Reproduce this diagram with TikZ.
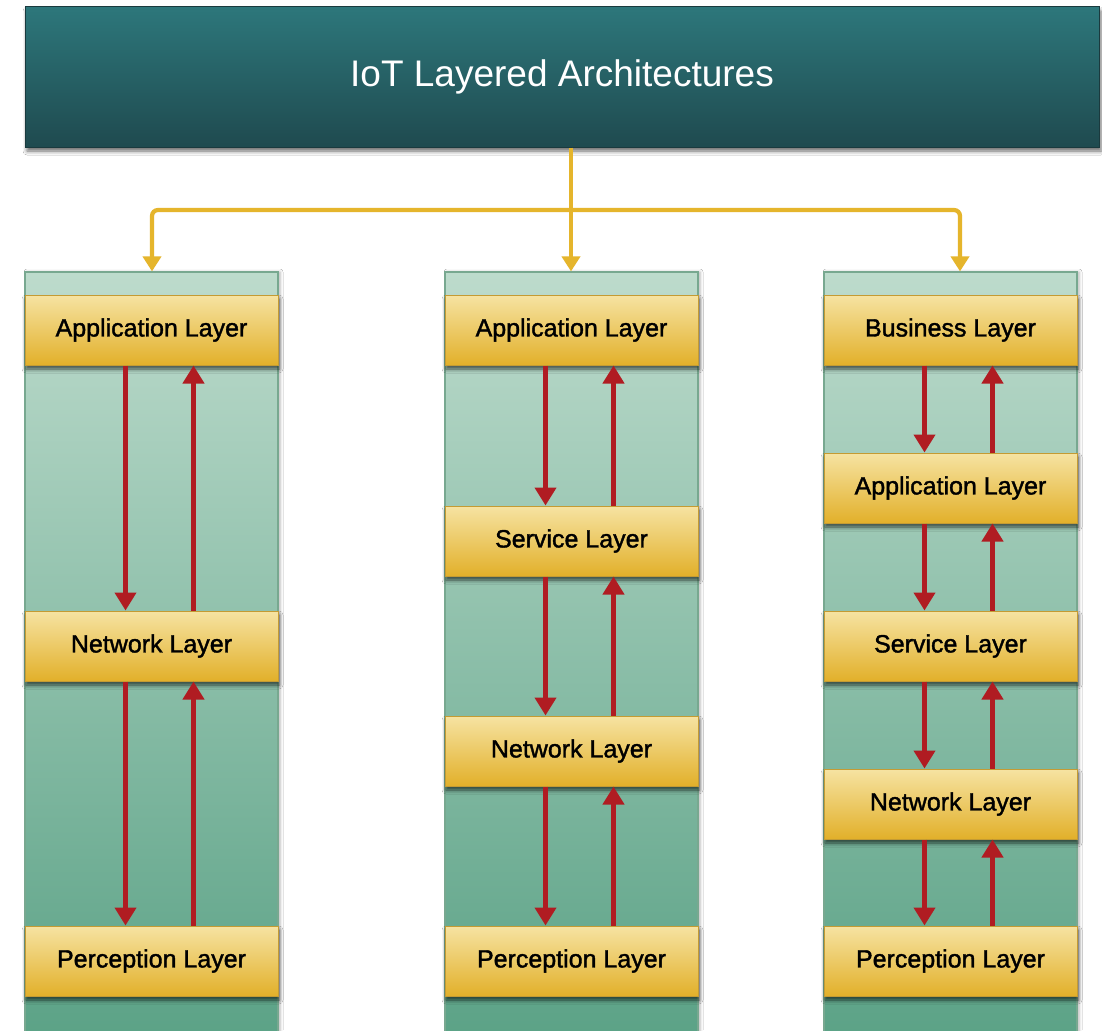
\documentclass[tikz,border=0pt]{standalone}
\usepackage{fontspec}
\setmainfont{Liberation Sans}
\newfontfamily\boxfont{Liberation Sans}[FakeBold=1.5]
\usetikzlibrary{arrows.meta,shadows.blur}
\definecolor{titletop}{HTML}{2D777B}
\definecolor{titlebot}{HTML}{1F4A4F}
\definecolor{titleedge}{HTML}{1A3A3E}
\definecolor{coltop}{HTML}{BDDBCC}
\definecolor{colbot}{HTML}{5BA286}
\definecolor{coledge}{HTML}{78A890}
\definecolor{boxtop}{HTML}{F6E3A2}
\definecolor{boxbot}{HTML}{E2B02A}
\definecolor{boxedge}{HTML}{C49B33}
\definecolor{linkyel}{HTML}{E5B52C}
\definecolor{arrred}{HTML}{B01C22}
\tikzset{
  titlebox/.style={draw=titleedge, line width=1pt, top color=titletop, bottom color=titlebot,
    minimum width=1074pt, minimum height=140pt, inner sep=0pt, text=white,
    font=\fontsize{37}{40}\selectfont,
    blur shadow={shadow xshift=2pt, shadow yshift=-4pt, shadow blur radius=4pt, shadow opacity=60}},
  colbox/.style={draw=coledge, line width=1.2pt, top color=coltop, bottom color=colbot,
    minimum width=253pt, minimum height=768pt, inner sep=0pt,
    blur shadow={shadow xshift=2pt, shadow yshift=0pt, shadow blur radius=3pt, shadow opacity=30}},
  layerbox/.style={draw=boxedge, line width=1pt, top color=boxtop, bottom color=boxbot,
    minimum width=253pt, minimum height=70pt, inner sep=0pt, text=black,
    font=\boxfont\fontsize{25}{27}\selectfont,
    blur shadow={shadow xshift=1pt, shadow yshift=-4pt, shadow blur radius=4pt, shadow opacity=65}},
  yelarr/.style={draw=linkyel, line width=4.2pt, -{Triangle[width=18pt,length=15pt]}},
  redarr/.style={draw=arrred, line width=4.2pt, -{Triangle[width=21pt,length=18pt]}},
}
\begin{document}
\begin{tikzpicture}[x=1pt,y=-1pt]
\useasboundingbox (0,0) rectangle (1102,1030);
\clip (0,0) rectangle (1102,1030);
\fill[white] (0,0) rectangle (1102,1030);
% title
\node[titlebox] (T) at (562,77) {IoT Layered Architectures};
% columns
\node[colbox] (c1) at (151.5,656) {};
\node[colbox] (c2) at (571.5,656) {};
\node[colbox] (c3) at (950.5,656) {};
% yellow connectors
\coordinate (hub) at (571,210);
\coordinate (lt) at (152,210);
\coordinate (rt) at (960,210);
\draw[yelarr] (T.south -| hub) -- (c2.north -| hub);
\draw[yelarr, rounded corners=6pt] (hub) -- (lt) -- (c1.north -| lt);
\draw[yelarr, rounded corners=6pt] (hub) -- (rt) -- (c3.north -| rt);
% column 1
\node[layerbox] (a1) at (151.5,330) {Application Layer};
\node[layerbox] (n1) at (151.5,646) {Network Layer};
\node[layerbox] (p1) at (151.5,961) {Perception Layer};
% column 2
\node[layerbox] (a2) at (571.5,330) {Application Layer};
\node[layerbox] (s2) at (571.5,541) {Service Layer};
\node[layerbox] (n2) at (571.5,751) {Network Layer};
\node[layerbox] (p2) at (571.5,961) {Perception Layer};
% column 3
\node[layerbox] (b3) at (950.5,330) {Business Layer};
\node[layerbox] (a3) at (950.5,488) {Application Layer};
\node[layerbox] (s3) at (950.5,646) {Service Layer};
\node[layerbox] (n3) at (950.5,804) {Network Layer};
\node[layerbox] (p3) at (950.5,961) {Perception Layer};
% red arrows
\foreach \u/\l in {a1/n1, n1/p1, a2/s2, s2/n2, n2/p2, b3/a3, a3/s3, s3/n3, n3/p3}{
  \draw[redarr] ([xshift=-26pt]\u.south) -- ([xshift=-26pt]\l.north);
  \draw[redarr] ([xshift=42pt]\l.north) -- ([xshift=42pt]\u.south);
}
\end{tikzpicture}
\end{document}
